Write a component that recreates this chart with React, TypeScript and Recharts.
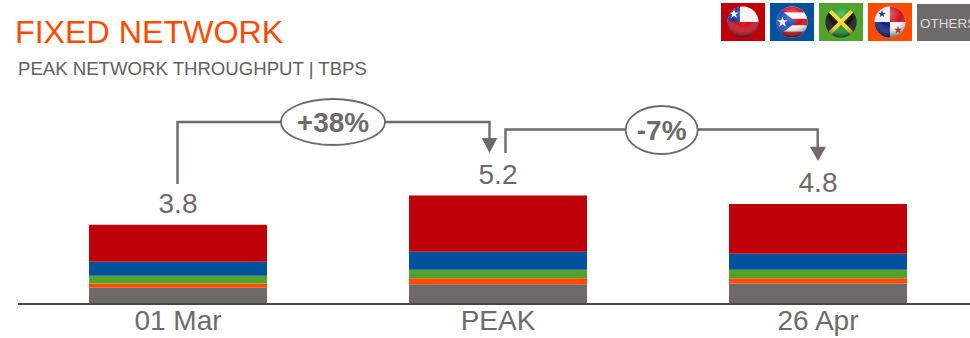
import React from 'react'
import { BarChart, Bar, XAxis, YAxis, LabelList } from 'recharts'

// Peak throughput per market, Tbps
const periods = ['01 Mar', 'PEAK', '26 Apr']
const totals = [3.8, 5.2, 4.8]
const others = [0.78, 0.95, 0.98]
const panama = [0.2, 0.29, 0.26]
const jamaica = [0.38, 0.4, 0.4]
const puertoRico = [0.66, 0.87, 0.77]
const chile = [1.78, 2.69, 2.39]

const RED = '#C00008'
const BLUE = '#00529F'
const GREEN = '#52A22B'
const ORANGE = '#FF4B00'
const GRAY = '#6F6A6A'
const FONT = '"Liberation Sans", Arial, sans-serif'

const rows = periods.map((period, i) => ({
  period,
  total: totals[i],
  others: others[i],
  panama: panama[i],
  jamaica: jamaica[i],
  puertoRico: puertoRico[i],
  chile: chile[i],
}))

function Star({ cx, cy, r, fill }: { cx: number; cy: number; r: number; fill: string }) {
  const pts: string[] = []
  for (let i = 0; i < 10; i++) {
    const a = -Math.PI / 2 + (i * Math.PI) / 5
    const rad = i % 2 === 0 ? r : r * 0.4
    pts.push(`${cx + rad * Math.cos(a)},${cy + rad * Math.sin(a)}`)
  }
  return <polygon points={pts.join(' ')} fill={fill} />
}

// Round flag badge on a coloured tile, 44 wide and 38 high
function FlagTile({ x, bg, id, children }: { x: number; bg: string; id: string; children: React.ReactNode }) {
  const cx = x + 22
  const cy = 22
  const r = 15.5
  return (
    <g>
      <rect x={x} y={3} width={44} height={38} fill={bg} />
      <clipPath id={id}><circle cx={cx} cy={cy} r={r} /></clipPath>
      <g clipPath={`url(#${id})`}>
        <g transform={`translate(${cx - 16} ${cy - 16})`}>{children}</g>
      </g>
      <circle cx={cx} cy={cy} r={r} fill="url(#sheen)" />
    </g>
  )
}

function Connector({ path, cx, cy, rx, ry, label, arrow }: {
  path: string; cx: number; cy: number; rx: number; ry: number; label: string; arrow: string
}) {
  return (
    <g>
      <path d={path} fill="none" stroke={GRAY} strokeWidth={2.4} />
      <polygon points={arrow} fill={GRAY} />
      <ellipse cx={cx} cy={cy} rx={rx} ry={ry} fill="#fff" stroke={GRAY} strokeWidth={1.8} />
      <text x={cx} y={cy + 10} textAnchor="middle" fontFamily={FONT} fontWeight={700} fontSize={28} fill={GRAY}>{label}</text>
    </g>
  )
}

export default function App() {
  return (
    <div style={{ position: 'fixed', left: 0, top: 0, width: 970, height: 338, overflow: 'hidden', background: '#fff' }}>
      <BarChart
        width={978}
        height={338}
        data={rows}
        margin={{ top: 158, right: 0, left: 18, bottom: 0 }}
        style={{ position: 'absolute', left: 0, top: 0 }}
      >
        <XAxis
          dataKey="period"
          height={34}
          tickLine={false}
          axisLine={{ stroke: '#4A4646', strokeWidth: 2 }}
          tick={{ fontFamily: FONT, fontSize: 28, fill: GRAY }}
          tickMargin={0}
          interval={0}
        />
        <YAxis hide domain={[0, 7]} />
        <Bar dataKey="others" stackId="a" fill={GRAY} barSize={178} isAnimationActive={false} />
        <Bar dataKey="panama" stackId="a" fill={ORANGE} barSize={178} isAnimationActive={false} />
        <Bar dataKey="jamaica" stackId="a" fill={GREEN} barSize={178} isAnimationActive={false} />
        <Bar dataKey="puertoRico" stackId="a" fill={BLUE} barSize={178} isAnimationActive={false} />
        <Bar dataKey="chile" stackId="a" fill={RED} barSize={178} isAnimationActive={false}>
          <LabelList dataKey="total" position="top" offset={12} formatter={(v: number) => v.toFixed(1)}
            style={{ fontFamily: FONT, fontSize: 28, fill: GRAY }} />
        </Bar>
      </BarChart>

      <svg width={970} height={338} style={{ position: 'absolute', left: 0, top: 0 }}>
        <defs>
          <radialGradient id="sheen" cx="50%" cy="25%" r="80%">
            <stop offset="0%" stopColor="#fff" stopOpacity={0.35} />
            <stop offset="45%" stopColor="#fff" stopOpacity={0} />
            <stop offset="95%" stopColor="#000" stopOpacity={0.6} />
          </radialGradient>
        </defs>

        <text x={15} y={43} fontFamily={FONT} fontSize={32.2} fill={ORANGE}>FIXED NETWORK</text>
        <text x={18} y={75} fontFamily={FONT} fontSize={18.6} fill="#5F6262">PEAK NETWORK THROUGHPUT | TBPS</text>

        <FlagTile x={721} bg={RED} id="cl">
          <rect width={32} height={16} fill="#f4f4f4" />
          <rect width={13} height={16} fill="#1c2f9c" />
          <rect y={16} width={32} height={16} fill="#d01020" />
          <Star cx={7} cy={8} r={5} fill="#fff" />
        </FlagTile>
        <FlagTile x={770} bg={BLUE} id="pr">
          <rect width={32} height={32} fill="#f4f4f4" />
          <rect y={0} width={32} height={6.4} fill="#d01020" />
          <rect y={12.8} width={32} height={6.4} fill="#d01020" />
          <rect y={25.6} width={32} height={6.4} fill="#d01020" />
          <polygon points="0,0 20,16 0,32" fill="#1c4fc0" />
          <Star cx={6.5} cy={16} r={5.5} fill="#fff" />
        </FlagTile>
        <FlagTile x={819} bg={GREEN} id="jm">
          <rect width={32} height={32} fill="#1a9a2c" />
          <polygon points="0,0 16,16 0,32" fill="#111" />
          <polygon points="32,0 16,16 32,32" fill="#111" />
          <path d="M0 0 L32 32 M32 0 L0 32" stroke="#f0d820" strokeWidth={4} />
        </FlagTile>
        <FlagTile x={868} bg={ORANGE} id="pa">
          <rect width={32} height={32} fill="#f4f4f4" />
          <rect x={16} width={16} height={16} fill="#d01020" />
          <rect y={16} width={16} height={16} fill="#10208c" />
          <Star cx={8} cy={8} r={4} fill="#10208c" />
          <Star cx={24} cy={24} r={4} fill="#d01020" />
        </FlagTile>
        <rect x={917} y={4} width={53} height={37} fill={GRAY} />
        <text x={920} y={28} fontFamily={FONT} fontSize={13.5} fill="#ddd">OTHERS</text>

        <Connector
          path="M177.5 184 V122 H489.5 V140"
          cx={333} cy={122} rx={52} ry={23}
          label="+38%"
          arrow="481.7,138 497.3,138 489.5,153"
        />
        <Connector
          path="M505.5 153 V129.5 H817.7 V148"
          cx={661.7} cy={130} rx={36} ry={24}
          label="-7%"
          arrow="810,146.7 826,146.7 818,161"
        />
      </svg>
    </div>
  )
}
